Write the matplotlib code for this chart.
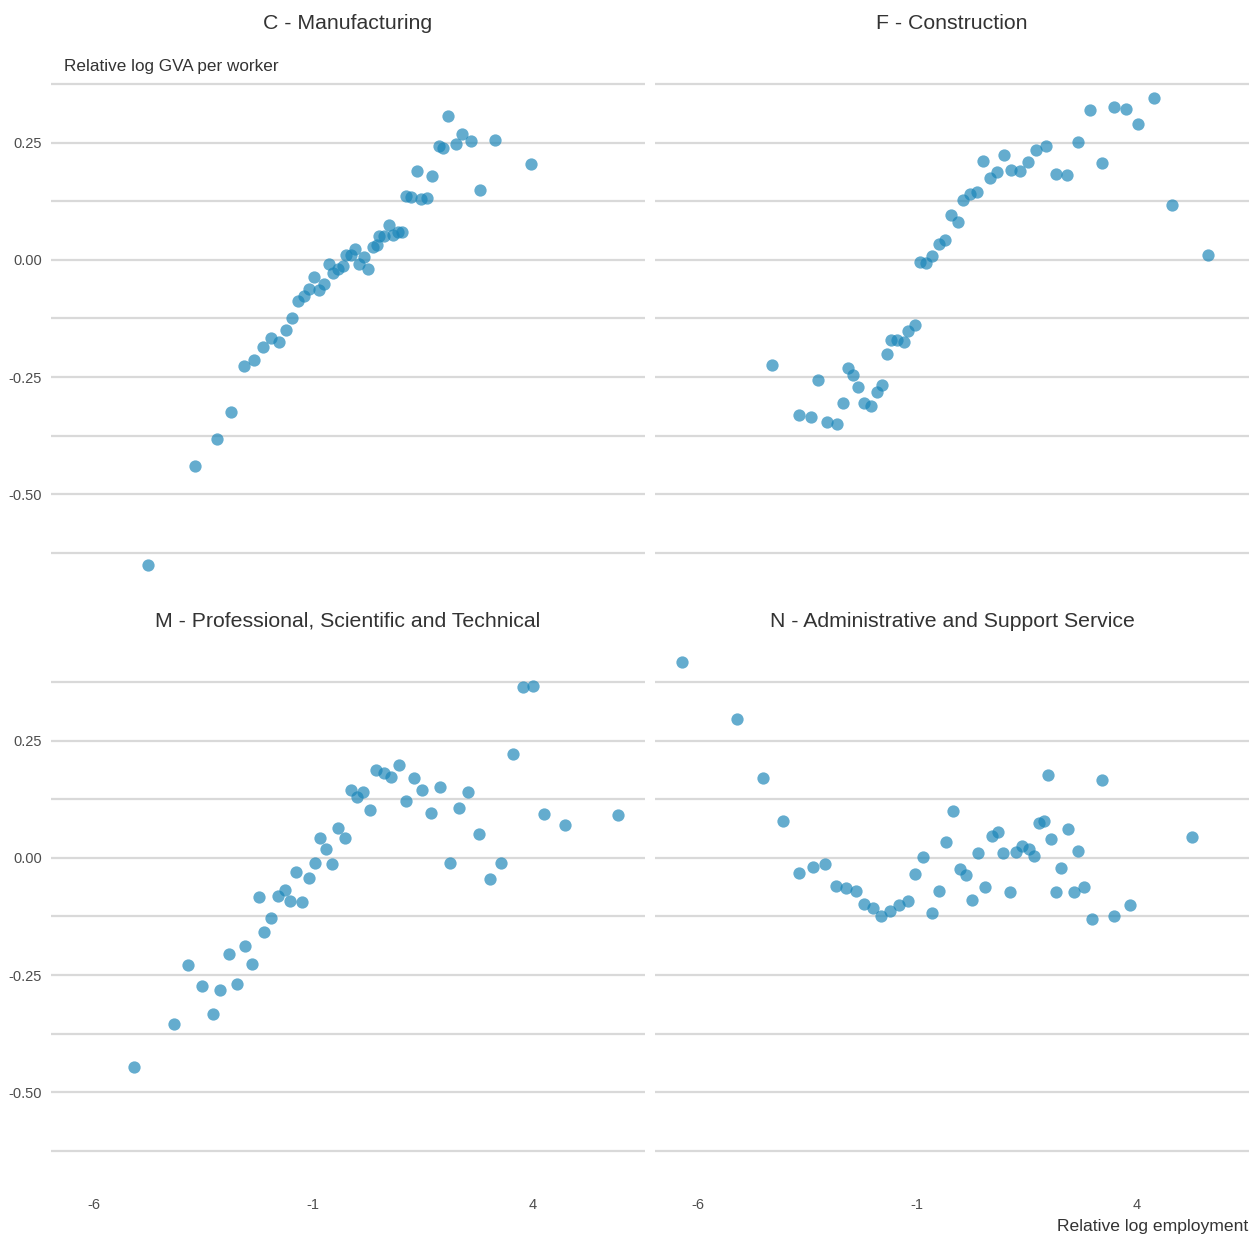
import matplotlib
matplotlib.use("Agg")
import matplotlib.pyplot as plt
from matplotlib.ticker import FixedLocator, FormatStrFormatter

plt.rcParams["font.family"] = ["Liberation Sans", "DejaVu Sans"]
plt.rcParams["axes.unicode_minus"] = False

# Relative log employment (x) and relative log GVA per worker (y), by sector
manufacturing_x = [2.07, 2.39, 2.58, 2.24, 1.85, 1.96, 3.14, 3.95, 1.35, 1.70, 2.80, 1.11, 1.23,
                   1.45, 1.59, 0.73, 0.50, 0.61, 0.82, 0.92, 1.02, 0.35, 0.44, -0.26, -0.05,
                   -0.15, 0.15, 0.04, 0.24, -0.65, -0.55, -0.44, -0.33, -0.98, -0.75, -0.86,
                   -1.10, -1.20, -1.34, -1.48, -1.62, -1.96, -1.78, -2.14, -2.34, -2.57, -2.86,
                   -3.20, -3.68, -4.75]
manufacturing_y = [0.308, 0.269, 0.253, 0.247, 0.244, 0.240, 0.256, 0.204, 0.190, 0.179, 0.149,
                   0.137, 0.135, 0.131, 0.133, 0.074, 0.051, 0.052, 0.053, 0.060, 0.060, 0.027,
                   0.032, 0.011, 0.023, 0.010, 0.006, -0.009, -0.019, -0.009, -0.027, -0.020,
                   -0.013, -0.037, -0.051, -0.064, -0.062, -0.078, -0.087, -0.124, -0.150,
                   -0.166, -0.176, -0.185, -0.214, -0.227, -0.325, -0.382, -0.440, -0.652]

construction_x = [4.39, 2.92, 3.48, 3.74, 4.03, 2.66, 1.93, 1.71, 3.20, 0.98, 0.49, 1.51, 0.81,
                  0.66, 1.14, 1.33, 2.15, 2.40, 4.80, 0.35, 0.20, 0.05, -0.23, -0.07, -0.36,
                  -0.51, -0.66, -0.93, -0.79, 5.61, -1.06, -1.20, -1.59, -1.46, -1.31, -1.69,
                  -4.31, -2.57, -2.47, -3.25, -2.35, -1.80, -1.92, -2.68, -2.20, -2.05, -3.70,
                  -3.41, -3.05, -2.82]
construction_y = [0.345, 0.321, 0.326, 0.322, 0.291, 0.251, 0.243, 0.234, 0.208, 0.224, 0.211,
                  0.209, 0.188, 0.175, 0.192, 0.189, 0.183, 0.181, 0.118, 0.145, 0.141, 0.127,
                  0.095, 0.081, 0.043, 0.034, 0.009, -0.005, -0.007, 0.010, -0.139, -0.152,
                  -0.172, -0.172, -0.175, -0.201, -0.225, -0.231, -0.245, -0.256, -0.271,
                  -0.267, -0.283, -0.306, -0.305, -0.311, -0.331, -0.335, -0.346, -0.351]

professional_x = [3.77, 3.99, 3.54, 0.94, 0.43, 0.60, 0.77, 1.29, -0.14, 0.14, -0.01, 1.48, 1.89,
                  2.53, 1.11, 0.28, 1.68, 2.31, 4.24, 4.73, 5.93, 2.77, -0.43, -0.84, -0.28,
                  -0.70, -0.97, -0.57, 2.10, 3.27, 3.02, -1.39, -1.10, -2.24, -1.80, -1.65,
                  -1.52, -1.25, -1.95, -2.11, -2.55, -2.91, -2.39, -3.84, -2.73, -3.54, -3.11,
                  -3.29, -4.17, -5.07]
professional_y = [0.366, 0.368, 0.222, 0.199, 0.187, 0.181, 0.172, 0.171, 0.144, 0.141, 0.130,
                  0.144, 0.152, 0.140, 0.122, 0.102, 0.096, 0.107, 0.093, 0.070, 0.092, 0.052,
                  0.063, 0.043, 0.043, 0.020, -0.010, -0.014, -0.011, -0.011, -0.044, -0.031,
                  -0.042, -0.083, -0.081, -0.069, -0.091, -0.094, -0.128, -0.159, -0.189,
                  -0.205, -0.227, -0.229, -0.270, -0.274, -0.281, -0.333, -0.355, -0.446]

admin_x = [-6.35, -5.11, -4.51, -4.05, 1.97, 3.20, -0.18, 5.25, 1.77, 1.88, 2.42, 0.83, 0.69,
           2.05, -0.34, 1.38, 1.53, 0.39, 0.96, 1.25, 1.66, 2.66, -0.86, -3.10, -3.37, -3.68,
           -1.05, -0.03, 0.11, 2.28, -2.85, -2.62, -2.40, -0.50, 0.53, 1.12, 2.16, 2.57, 2.80,
           -2.20, -2.00, -1.82, -1.61, -1.42, -1.22, -0.67, 0.24, 2.97, 3.47, 3.83]
admin_y = [0.419, 0.297, 0.170, 0.079, 0.176, 0.167, 0.100, 0.045, 0.075, 0.079, 0.062, 0.056,
           0.046, 0.041, 0.033, 0.026, 0.019, 0.011, 0.011, 0.013, 0.005, 0.014, 0.001, -0.012,
           -0.019, -0.033, -0.035, -0.024, -0.036, -0.022, -0.060, -0.064, -0.070, -0.071,
           -0.063, -0.073, -0.072, -0.073, -0.061, -0.098, -0.107, -0.125, -0.113, -0.100,
           -0.093, -0.118, -0.089, -0.130, -0.125, -0.100]

panel_titles = ["C - Manufacturing", "F - Construction",
                "M - Professional, Scientific and Technical", "N - Administrative and Support Service"]
panel_data = [(manufacturing_x, manufacturing_y), (construction_x, construction_y),
              (professional_x, professional_y), (admin_x, admin_y)]

x_ticks = [-6, -1, 4]
y_major = [-0.50, -0.25, 0.00, 0.25]
y_minor = [-0.625, -0.375, -0.125, 0.125, 0.375]

POINT_COLOR = "#1a85b8"
GRID_COLOR = "#d9d9d9"
TEXT_DARK = "#333333"
TEXT_TICK = "#4d4d4d"

W, H = 1257, 1235
fig = plt.figure(figsize=(W / 100, H / 100), dpi=100)
fig.patch.set_facecolor("white")

# shared scales with 5% padding on each side
all_x = [v for xs, _ in panel_data for v in xs]
all_y = [v for _, ys in panel_data for v in ys]
xr = max(all_x) - min(all_x)
yr = max(all_y) - min(all_y)
xlim = (min(all_x) - 0.05 * xr, max(all_x) + 0.05 * xr)
ylim = (min(all_y) - 0.05 * yr, max(all_y) + 0.05 * yr)

cols = [(51, 645), (655, 1249)]
rows = [(38.6, 590.4), (636.6, 1188.4)]


def add_panel(left, top, right, bottom):
    return fig.add_axes([left / W, 1 - bottom / H, (right - left) / W, (bottom - top) / H])


for i, (title, (xs, ys)) in enumerate(zip(panel_titles, panel_data)):
    r, c = divmod(i, 2)
    (l, rt), (t, b) = cols[c], rows[r]
    ax = add_panel(l, t, rt, b)
    ax.set_xlim(*xlim)
    ax.set_ylim(*ylim)
    ax.yaxis.set_major_locator(FixedLocator(y_major))
    ax.yaxis.set_minor_locator(FixedLocator(y_minor))
    ax.xaxis.set_major_locator(FixedLocator(x_ticks))
    ax.xaxis.set_minor_locator(FixedLocator([]))
    ax.grid(which="both", axis="y", color=GRID_COLOR, linewidth=1.6, zorder=0)
    ax.grid(which="both", axis="x", visible=False)
    ax.set_axisbelow(True)
    for s in ax.spines.values():
        s.set_visible(False)
    ax.tick_params(which="both", length=0)
    ax.tick_params(axis="y", pad=6.5, labelsize=10.5, labelcolor=TEXT_TICK)
    ax.tick_params(axis="x", pad=7, labelsize=10.5, labelcolor=TEXT_TICK)
    ax.yaxis.set_major_formatter(FormatStrFormatter("%.2f"))
    if c == 1:
        ax.tick_params(axis="y", labelleft=False)
    if r == 0:
        ax.tick_params(axis="x", labelbottom=False)

    ax.scatter(xs, ys, s=78, color=POINT_COLOR, alpha=0.68, linewidths=0, zorder=3)

    fig.text((l + rt) / 2 / W, 1 - (28.7 + (598 if r else 0)) / H, title,
             ha="center", va="baseline", fontsize=15.3, color=TEXT_DARK)

fig.text(64 / W, 1 - 70.7 / H, "Relative log GVA per worker", ha="left", va="baseline",
         fontsize=12.3, color=TEXT_DARK)
fig.text(1248 / W, 1 - 1231 / H, "Relative log employment", ha="right", va="baseline",
         fontsize=12.6, color=TEXT_DARK)

fig.savefig("out.png", dpi=100, facecolor="white")
